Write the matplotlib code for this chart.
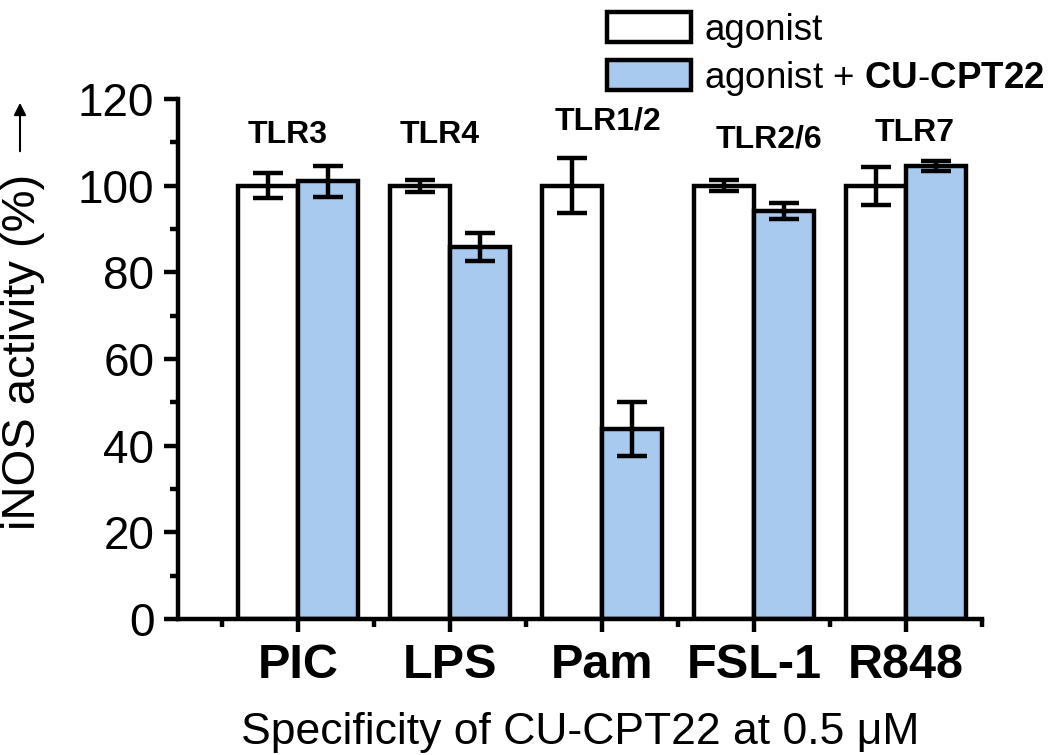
# iNOS activity bar chart - specificity of CU-CPT22
import numpy as np
import matplotlib
matplotlib.use('Agg')
import matplotlib.pyplot as plt
from matplotlib.ticker import MultipleLocator

plt.rcParams['font.family'] = ['Liberation Sans', 'DejaVu Sans']
plt.rcParams['mathtext.fontset'] = 'custom'
plt.rcParams['mathtext.rm'] = 'Liberation Sans'
plt.rcParams['mathtext.bf'] = 'Liberation Sans:bold'

# data
agonists = ['PIC', 'LPS', 'Pam', 'FSL-1', 'R848']
receptors = ['TLR3', 'TLR4', 'TLR1/2', 'TLR2/6', 'TLR7']
agonist_only = [100, 100, 100, 100, 100]
agonist_only_err = [2.8, 1.4, 6.4, 1.2, 4.4]
with_cpt22 = [101.0, 85.8, 43.8, 94.2, 104.5]
with_cpt22_err = [3.6, 3.3, 6.2, 1.8, 1.1]

blue = '#a8caee'
lw = 3.2

fig = plt.figure(figsize=(10.5, 7.55), dpi=100)
ax = fig.add_axes([0.1695, 0.180, 0.7655, 0.689])

x = np.arange(1, len(agonists) + 1)
w = 0.395
err_kw = dict(elinewidth=lw, capsize=11, capthick=lw, ecolor='black')
ax.bar(x - w / 2, agonist_only, w, yerr=agonist_only_err, color='white',
       edgecolor='black', linewidth=lw, error_kw=err_kw, label='agonist', zorder=2)
ax.bar(x + w / 2, with_cpt22, w, yerr=with_cpt22_err, color=blue,
       edgecolor='black', linewidth=lw, error_kw=err_kw,
       label=r'agonist + $\mathbf{CU\text{-}CPT22}$', zorder=2)

# receptor names above each group (hand placed like the original)
tops = np.maximum(np.array(agonist_only) + agonist_only_err,
                  np.array(with_cpt22) + with_cpt22_err)
dx = [-0.07, -0.07, 0.04, 0.1, 0.06]
dy = [7.1, 10.3, 8.3, 9.4, 6.6]
for i, name in enumerate(receptors):
    ax.text(x[i] + dx[i], tops[i] + dy[i], name, ha='center', va='center',
            fontsize=23, fontweight='bold')

ax.set_xlim(0.21, 5.5)
ax.set_ylim(0, 120)
ax.set_xticks(x)
ax.set_xticklabels(agonists, fontsize=35, fontweight='bold')
ax.xaxis.set_minor_locator(MultipleLocator(1, offset=0.5))
ax.yaxis.set_major_locator(MultipleLocator(20))
ax.yaxis.set_minor_locator(MultipleLocator(10))
ax.tick_params(axis='y', which='major', labelsize=33, length=10, width=lw, pad=7)
ax.tick_params(axis='y', which='minor', length=6, width=lw)
ax.tick_params(axis='x', which='major', length=9, width=lw, pad=8)
ax.tick_params(axis='x', which='minor', length=6, width=lw)

for side in ['top', 'right']:
    ax.spines[side].set_visible(False)
for side in ['left', 'bottom']:
    ax.spines[side].set_linewidth(lw)

ax.set_xlabel('Specificity of CU-CPT22 at 0.5 \u03bcM', fontsize=32)
ax.xaxis.set_label_coords(0.5, -0.178)
ax.set_ylabel('iNOS activity (%)', fontsize=34)
ax.yaxis.set_label_coords(-0.166, 0.513)

# arrow after the y label
ax.annotate('', xy=(20, 655), xytext=(20, 601), xycoords='figure pixels',
            textcoords='figure pixels',
            arrowprops=dict(arrowstyle='-|>', color='black', lw=1.5,
                            mutation_scale=18))

leg = ax.legend(loc='upper right', bbox_to_anchor=(1.097, 1.195), frameon=False,
                fontsize=26.5, handlelength=2.3, handleheight=0.85,
                labelspacing=0.3, handletextpad=0.35, borderaxespad=0)

fig.savefig('out.png', dpi=100)
